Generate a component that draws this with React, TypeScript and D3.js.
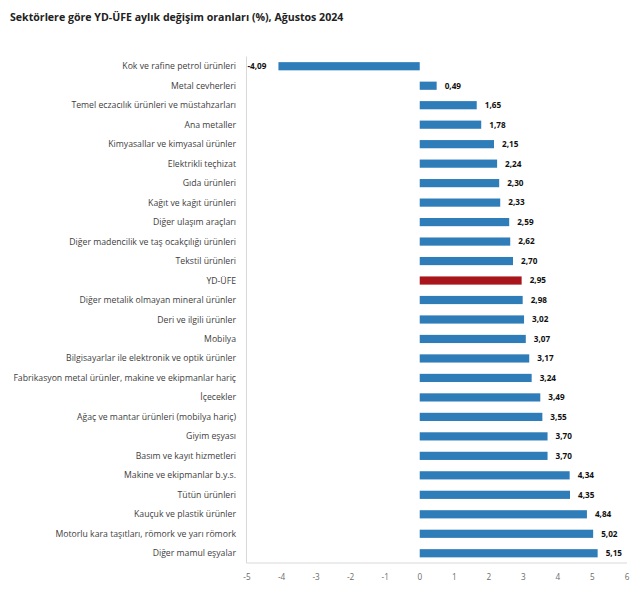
import React from "react";
import * as d3 from "d3";

const categories = [
  "Kok ve rafine petrol ürünleri",
  "Metal cevherleri",
  "Temel eczacılık ürünleri ve müstahzarları",
  "Ana metaller",
  "Kimyasallar ve kimyasal ürünler",
  "Elektrikli teçhizat",
  "Gıda ürünleri",
  "Kağıt ve kağıt ürünleri",
  "Diğer ulaşım araçları",
  "Diğer madencilik ve taş ocakçılığı ürünleri",
  "Tekstil ürünleri",
  "YD-ÜFE",
  "Diğer metalik olmayan mineral ürünler",
  "Deri ve ilgili ürünler",
  "Mobilya",
  "Bilgisayarlar ile elektronik ve optik ürünler",
  "Fabrikasyon metal ürünler, makine ve ekipmanlar hariç",
  "İçecekler",
  "Ağaç ve mantar ürünleri (mobilya hariç)",
  "Giyim eşyası",
  "Basım ve kayıt hizmetleri",
  "Makine ve ekipmanlar b.y.s.",
  "Tütün ürünleri",
  "Kauçuk ve plastik ürünler",
  "Motorlu kara taşıtları, römork ve yarı römork",
  "Diğer mamul eşyalar",
];

const values = [
  -4.09, 0.49, 1.65, 1.78, 2.15, 2.24, 2.3, 2.33, 2.59, 2.62, 2.7, 2.95, 2.98,
  3.02, 3.07, 3.17, 3.24, 3.49, 3.55, 3.7, 3.7, 4.34, 4.35, 4.84, 5.02, 5.15,
];

const highlight = "YD-ÜFE";
const xTicks = [-5, -4, -3, -2, -1, 0, 1, 2, 3, 4, 5, 6];
const title = "Sektörlere göre YD-ÜFE aylık değişim oranları (%), Ağustos 2024";

const W = 639;
const H = 597;
const FONT = "'Open Sans', 'Noto Sans', sans-serif";

export default function App() {
  const x = d3.scaleLinear().domain([-5, 6]).range([247, 627]);
  const y = d3
    .scaleBand<string>()
    .domain(categories)
    .range([56.5, 563])
    .paddingInner(0.58)
    .paddingOuter(0.29);
  const fmt = (v: number) => d3.format(".2f")(v).replace(".", ",").replace("−", "-");
  const bw = y.bandwidth();

  return (
    <svg
      width={W}
      height={H}
      style={{ position: "absolute", left: 0, top: 0, background: "#fff" }}
      fontFamily={FONT}
    >
      <text x={10} y={21} fontSize={10.6} fontWeight="bold" fill="#222">
        {title}
      </text>
      <line x1={x(-5) - 0.5} x2={x(-5) - 0.5} y1={56.5} y2={563} stroke="#d9d9d9" />
      <line x1={x(-5) - 0.5} x2={x(6)} y1={563} y2={563} stroke="#d9d9d9" />
      {categories.map((c, i) => {
        const v = values[i];
        const yc = (y(c) as number) + bw / 2;
        const x0 = x(Math.min(0, v));
        const x1 = x(Math.max(0, v));
        return (
          <g key={c}>
            <text
              x={236}
              y={yc}
              dy="0.35em"
              textAnchor="end"
              fontSize={8.7}
              fill="#404040"
            >
              {c}
            </text>
            <rect
              x={x0}
              y={y(c) as number}
              width={x1 - x0}
              height={bw}
              fill={c === highlight ? "#a8161c" : "#2e7cb8"}
            />
            <text
              x={v < 0 ? x(v) - 12 : x(v) + 8}
              y={yc}
              dy="0.35em"
              textAnchor={v < 0 ? "end" : "start"}
              fontSize={8.2}
              fontWeight="bold"
              fill="#111"
            >
              {fmt(v)}
            </text>
          </g>
        );
      })}
      {xTicks.map((t) => (
        <text
          key={t}
          x={x(t)}
          y={580}
          textAnchor="middle"
          fontSize={8.2}
          fill="#6b6b6b"
        >
          {t}
        </text>
      ))}
    </svg>
  );
}
